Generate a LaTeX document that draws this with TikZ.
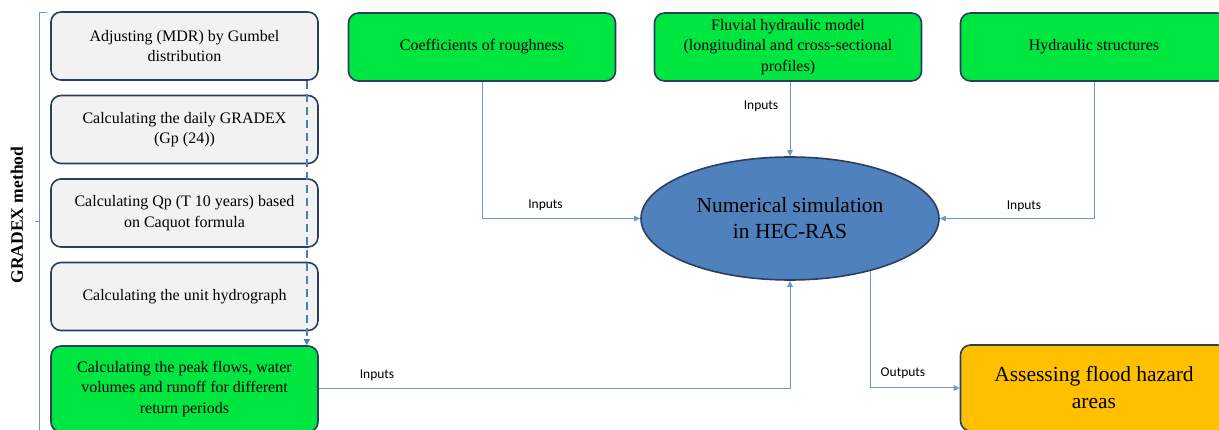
\documentclass[tikz,border=0pt]{standalone}
\usepackage{fontspec}
\setmainfont{Liberation Serif}
\newfontfamily\lblfont{Carlito}
\usetikzlibrary{positioning,shapes.geometric,arrows.meta}
\definecolor{boxline}{HTML}{2A3F5F}
\definecolor{greenfill}{HTML}{00E640}
\definecolor{grayfill}{HTML}{F2F2F2}
\definecolor{simfill}{HTML}{4F81BD}
\definecolor{hazfill}{HTML}{FFC000}
\definecolor{linkblue}{HTML}{6C98D0}
\definecolor{dashblue}{HTML}{4A7EBB}

\begin{document}
\begin{tikzpicture}[
        x=1pt, y=-1pt,
        node distance=13.9pt,
        stepbox/.style={
            rectangle,
            draw=boxline,
            line width=1.6pt,
            rounded corners=10pt,
            align=center,
            minimum width=267pt,
            minimum height=68pt,
            inner sep=2pt,
            font=\fontsize{16}{20.5}\selectfont
        },
        graybox/.style={
            stepbox,
            fill=grayfill
        },
        greenbox/.style={
            stepbox,
            fill=greenfill
        },
        arrow/.style={
            -{Triangle[length=6pt,width=5.5pt]},
            line width=1pt,
            color=linkblue
        },
        dasharrow/.style={
            -{Triangle[length=6pt,width=6pt]},
            line width=2.2pt,
            dash pattern=on 8pt off 5pt,
            color=dashblue
        },
        lbl/.style={
            anchor=base,
            inner sep=0pt,
            font=\lblfont\fontsize{13.5}{16}\selectfont
        }
    ]
        \useasboundingbox (0,0) rectangle (1219,430);

        % GRADEX column
        \node (adj) [graybox] at (184.5,46) {Adjusting (MDR) by Gumbel\\distribution};
        \node (daily) [graybox, below=of adj] {Calculating the daily GRADEX\\(Gp (24))};
        \node (qp) [graybox, below=of daily] {Calculating Qp (T 10 years) based\\on Caquot formula};
        \node (unit) [graybox, below=of qp] {Calculating the unit hydrograph};
        \node (peak) [greenbox, below=of unit, minimum height=86pt] {Calculating the peak flows, water\\volumes and runoff for different\\return periods};

        \draw[dasharrow] ([xshift=-12pt]adj.south east) -- ([xshift=-12pt]peak.north east);

        % bracket and label
        \draw[linkblue, line width=1pt] (46.5,12.5) -- (39.5,12.5) -- (39.5,432);
        \draw[linkblue, line width=1pt] (39.5,222) -- (35,222);
        \node (gradex) [rotate=90, font=\fontsize{17.5}{20}\selectfont\bfseries] at (17,215) {GRADEX method};

        % inputs on top
        \node (coef) [greenbox] at (482,47) {Coefficients of roughness};
        \node (fluv) [greenbox, right=37.4pt of coef] {Fluvial hydraulic model\\(longitudinal and cross-sectional\\profiles)};
        \node (hyd) [greenbox, right=37.4pt of fluv] {Hydraulic structures};

        % model and result
        \node (sim) [ellipse, draw=boxline, line width=1.6pt, fill=simfill,
            minimum width=298pt, minimum height=123pt, inner sep=0pt, align=center,
            font=\fontsize{21.5}{26}\selectfont] at (790,218.5) {Numerical simulation\\in HEC-RAS};
        \node (haz) [stepbox, fill=hazfill, minimum height=86pt,
            font=\fontsize{21.5}{27}\selectfont] at (1094,388) {Assessing flood hazard\\areas};

        \draw[arrow] (coef.south) |- (sim.west);
        \draw[arrow] (fluv.south -| sim.north) -- (sim.north);
        \draw[arrow] (hyd.south) |- (sim.east);
        \draw[arrow] (peak.east) -| (sim.south);
        \draw[arrow] (sim.-33.4) |- (haz.west);

        \node (incoef) [lbl] at (545.5,209) {Inputs};
        \node (influv) [lbl] at (761,110) {Inputs};
        \node (inhyd) [lbl] at (1024,210) {Inputs};
        \node (inpeak) [lbl] at (377,379) {Inputs};
        \node (outhaz) [lbl] at (903,377) {Outputs};
    \end{tikzpicture}
\end{document}
